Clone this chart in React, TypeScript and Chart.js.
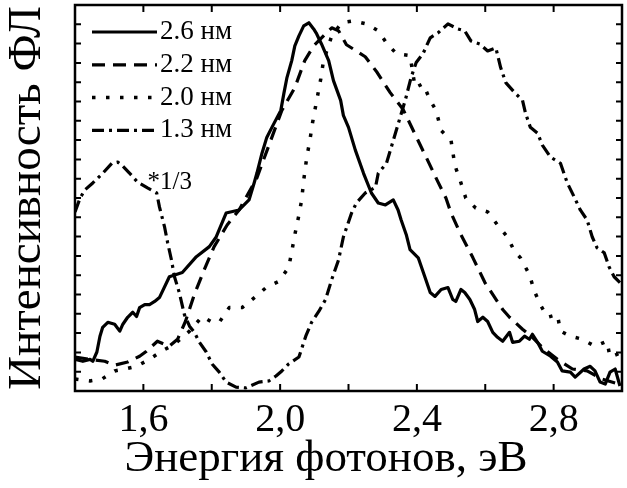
import React, { useEffect, useRef } from 'react';
import { Chart, registerables } from 'chart.js';

Chart.register(...registerables);

const SERIF = '"Liberation Serif", "Times New Roman", serif';

const xTitle = 'Энергия фотонов, эВ';
const yTitle = 'Интенсивность ФЛ';
const seriesLabels = ['2.6 нм', '2.2 нм', '2.0 нм', '1.3 нм'];
const labeledTicks = [1.6, 2.0, 2.4, 2.8];
const noteText = '*1/3';
const notePos = [1.612, 0.541];

// 2.6 nm (solid)
const e26 = [1.400,1.423,1.444,1.452,1.464,1.473,1.481,1.496,1.516,1.531,1.540,1.554,1.569,1.580,1.589,1.604,1.618,1.633,1.647,1.676,1.714,1.755,1.793,1.813,1.842,1.880,1.909,1.924,1.932,1.947,1.961,1.976,2.002,2.011,2.020,2.034,2.043,2.055,2.069,2.084,2.098,2.107,2.121,2.142,2.156,2.177,2.185,2.200,2.220,2.244,2.267,2.287,2.308,2.331,2.345,2.354,2.369,2.380,2.404,2.424,2.439,2.453,2.471,2.491,2.505,2.514,2.529,2.540,2.555,2.569,2.578,2.593,2.607,2.622,2.636,2.651,2.671,2.680,2.700,2.715,2.729,2.738,2.753,2.767,2.791,2.811,2.825,2.849,2.863,2.889,2.907,2.921,2.936,2.951,2.965,2.980,2.994];
const i26 = [0.082,0.077,0.082,0.077,0.101,0.142,0.165,0.178,0.173,0.155,0.173,0.191,0.204,0.193,0.216,0.224,0.224,0.232,0.242,0.296,0.307,0.348,0.374,0.399,0.461,0.469,0.495,0.539,0.564,0.616,0.657,0.683,0.727,0.771,0.812,0.856,0.894,0.920,0.946,0.954,0.938,0.925,0.899,0.856,0.804,0.753,0.714,0.683,0.624,0.564,0.513,0.487,0.482,0.495,0.469,0.443,0.405,0.366,0.345,0.294,0.255,0.245,0.263,0.268,0.237,0.232,0.263,0.255,0.237,0.211,0.180,0.191,0.180,0.152,0.139,0.129,0.152,0.126,0.129,0.142,0.134,0.147,0.126,0.103,0.090,0.075,0.052,0.049,0.036,0.057,0.064,0.052,0.023,0.018,0.049,0.057,0.013];

// 2.2 nm (dashed)
const e22 = [1.400,1.444,1.487,1.516,1.554,1.589,1.609,1.641,1.676,1.700,1.723,1.749,1.778,1.807,1.845,1.880,1.932,2.005,2.043,2.072,2.098,2.127,2.151,2.171,2.194,2.223,2.249,2.284,2.322,2.360,2.392,2.427,2.462,2.485,2.500,2.526,2.564,2.599,2.651,2.671,2.709,2.738,2.767,2.811,2.855,2.898,2.942,2.991];
const i22 = [0.088,0.082,0.077,0.067,0.075,0.090,0.103,0.129,0.116,0.134,0.180,0.250,0.314,0.374,0.430,0.469,0.552,0.727,0.786,0.856,0.894,0.920,0.941,0.933,0.897,0.881,0.866,0.825,0.773,0.729,0.670,0.606,0.541,0.500,0.461,0.410,0.345,0.281,0.211,0.191,0.160,0.139,0.113,0.082,0.057,0.052,0.031,0.018];

// 2.0 nm (dotted)
const e20 = [1.400,1.444,1.479,1.516,1.545,1.580,1.618,1.653,1.691,1.735,1.772,1.801,1.822,1.851,1.889,1.929,1.959,1.996,2.025,2.034,2.043,2.055,2.063,2.069,2.078,2.087,2.095,2.107,2.119,2.127,2.151,2.180,2.215,2.252,2.287,2.311,2.340,2.380,2.395,2.418,2.439,2.456,2.471,2.500,2.511,2.529,2.543,2.572,2.607,2.636,2.665,2.686,2.703,2.729,2.744,2.761,2.782,2.811,2.820,2.849,2.884,2.921,2.956,2.965,2.985,3.000];
const i20 = [0.031,0.026,0.031,0.052,0.057,0.064,0.082,0.103,0.121,0.155,0.193,0.178,0.178,0.216,0.216,0.245,0.268,0.284,0.320,0.361,0.405,0.456,0.495,0.546,0.606,0.649,0.696,0.753,0.809,0.856,0.920,0.954,0.959,0.951,0.933,0.902,0.874,0.869,0.786,0.796,0.753,0.727,0.675,0.649,0.585,0.539,0.500,0.474,0.464,0.430,0.399,0.361,0.345,0.302,0.258,0.224,0.191,0.198,0.155,0.142,0.134,0.116,0.129,0.088,0.095,0.101];

// 1.3 nm (dash-dot, scaled *1/3)
const e13 = [1.400,1.415,1.429,1.452,1.481,1.508,1.525,1.537,1.560,1.583,1.612,1.639,1.647,1.662,1.671,1.682,1.691,1.705,1.720,1.735,1.749,1.764,1.784,1.801,1.822,1.842,1.871,1.900,1.938,1.967,1.988,2.005,2.025,2.055,2.075,2.092,2.113,2.133,2.151,2.171,2.185,2.209,2.223,2.249,2.279,2.287,2.311,2.331,2.351,2.366,2.383,2.398,2.418,2.439,2.462,2.491,2.520,2.540,2.558,2.584,2.607,2.631,2.645,2.660,2.686,2.709,2.718,2.732,2.753,2.767,2.791,2.820,2.840,2.860,2.878,2.898,2.913,2.927,2.948,2.962,2.977,2.994];
const i13 = [0.464,0.500,0.521,0.539,0.564,0.590,0.593,0.585,0.564,0.541,0.526,0.513,0.477,0.425,0.384,0.340,0.296,0.255,0.198,0.168,0.152,0.126,0.101,0.070,0.049,0.023,0.010,0.008,0.023,0.026,0.039,0.052,0.070,0.088,0.142,0.178,0.206,0.237,0.289,0.340,0.399,0.461,0.487,0.513,0.528,0.564,0.590,0.649,0.709,0.753,0.812,0.851,0.874,0.915,0.928,0.951,0.938,0.933,0.907,0.899,0.881,0.889,0.838,0.799,0.773,0.753,0.719,0.683,0.668,0.637,0.606,0.590,0.539,0.503,0.469,0.443,0.399,0.371,0.358,0.322,0.296,0.281];

const zip = (xs: number[], ys: number[]) => xs.map((x, i) => ({ x, y: ys[i] }));

const framePlugin = {
  id: 'frameTicksLegend',
  afterDatasetsDraw(chart: any) {
    const { ctx, chartArea: a, scales } = chart;
    ctx.save();
    ctx.strokeStyle = '#000';
    ctx.lineWidth = 2;
    ctx.setLineDash([]);
    ctx.beginPath();
    for (const t of scales.x.ticks) {
      const p = scales.x.getPixelForValue(t.value);
      if (p <= a.left + 3 || p >= a.right - 3) continue;
      ctx.moveTo(p, a.bottom);
      ctx.lineTo(p, a.bottom - 7);
      ctx.moveTo(p, a.top);
      ctx.lineTo(p, a.top + 7);
    }
    for (const t of scales.y.ticks) {
      const p = scales.y.getPixelForValue(t.value);
      if (p <= a.top + 3 || p >= a.bottom - 3) continue;
      ctx.moveTo(a.left, p);
      ctx.lineTo(a.left + 6, p);
      ctx.moveTo(a.right, p);
      ctx.lineTo(a.right - 6, p);
    }
    ctx.stroke();
    ctx.lineWidth = 2.5;
    ctx.strokeRect(a.left, a.top, a.right - a.left, a.bottom - a.top);

    // legend
    ctx.font = `27px ${SERIF}`;
    ctx.fillStyle = '#000';
    ctx.textBaseline = 'middle';
    ctx.textAlign = 'left';
    chart.data.datasets.forEach((ds: any, i: number) => {
      const y = a.top + 27 + i * 32.8;
      ctx.beginPath();
      ctx.lineWidth = ds.borderWidth;
      ctx.setLineDash(ds.borderDash || []);
      ctx.moveTo(a.left + 17, y);
      ctx.lineTo(a.left + 82, y);
      ctx.stroke();
      ctx.setLineDash([]);
      ctx.fillText(ds.label, a.left + 85, y);
    });

    // scale note
    ctx.font = `25px ${SERIF}`;
    ctx.fillText(noteText, scales.x.getPixelForValue(notePos[0]), scales.y.getPixelForValue(notePos[1]));
    ctx.restore();
  },
};

export default function App() {
  const canvasRef = useRef<HTMLCanvasElement | null>(null);

  useEffect(() => {
    const canvas = canvasRef.current;
    if (!canvas) return;
    const common = { borderColor: '#000', backgroundColor: '#000', pointRadius: 0, tension: 0, fill: false, borderJoinStyle: 'round' as const };
    const chart = new Chart(canvas, {
      type: 'line',
      data: {
        datasets: [
          { ...common, label: seriesLabels[0], data: zip(e26, i26), borderWidth: 3.2, borderDash: [] },
          { ...common, label: seriesLabels[1], data: zip(e22, i22), borderWidth: 3.2, borderDash: [13, 8] },
          { ...common, label: seriesLabels[2], data: zip(e20, i20), borderWidth: 3.5, borderDash: [3.5, 10.5] },
          { ...common, label: seriesLabels[3], data: zip(e13, i13), borderWidth: 3.2, borderDash: [12, 5, 3, 5] },
        ],
      },
      options: {
        responsive: true,
        maintainAspectRatio: false,
        animation: false,
        layout: { padding: { left: 0, top: 5, right: 1, bottom: 0 } },
        plugins: { legend: { display: false }, tooltip: { enabled: false } },
        scales: {
          x: {
            type: 'linear',
            min: 1.4,
            max: 3.0,
            grid: { display: false, drawTicks: false },
            border: { display: false },
            ticks: {
              stepSize: 0.2,
              autoSkip: false,
              maxRotation: 0,
              padding: 5,
              color: '#000',
              font: { family: SERIF, size: 40 },
              callback: (v: any) => {
                const n = Number(v);
                return labeledTicks.some((t) => Math.abs(t - n) < 1e-6) ? n.toFixed(1).replace('.', ',') : '';
              },
            },
            title: {
              display: true,
              text: xTitle + '    ',
              color: '#000',
              font: { family: SERIF, size: 45 },
              padding: { top: 0, bottom: 2 },
            },
            afterFit: (s: any) => { s.height = 97; },
          },
          y: {
            type: 'linear',
            min: 0,
            max: 1,
            grid: { display: false, drawTicks: false },
            border: { display: false },
            ticks: { stepSize: 0.05, display: false },
            title: {
              display: true,
              text: yTitle,
              color: '#000',
              font: { family: SERIF, size: 47 },
              padding: { top: -1, bottom: 0 },
            },
            afterFit: (s: any) => { s.width = 75; },
          },
        },
      },
      plugins: [framePlugin],
    });
    return () => chart.destroy();
  }, []);

  return (
    <div style={{ position: 'absolute', left: 0, top: 0, width: 627, height: 488, background: '#fff' }}>
      <canvas ref={canvasRef} />
    </div>
  );
}
